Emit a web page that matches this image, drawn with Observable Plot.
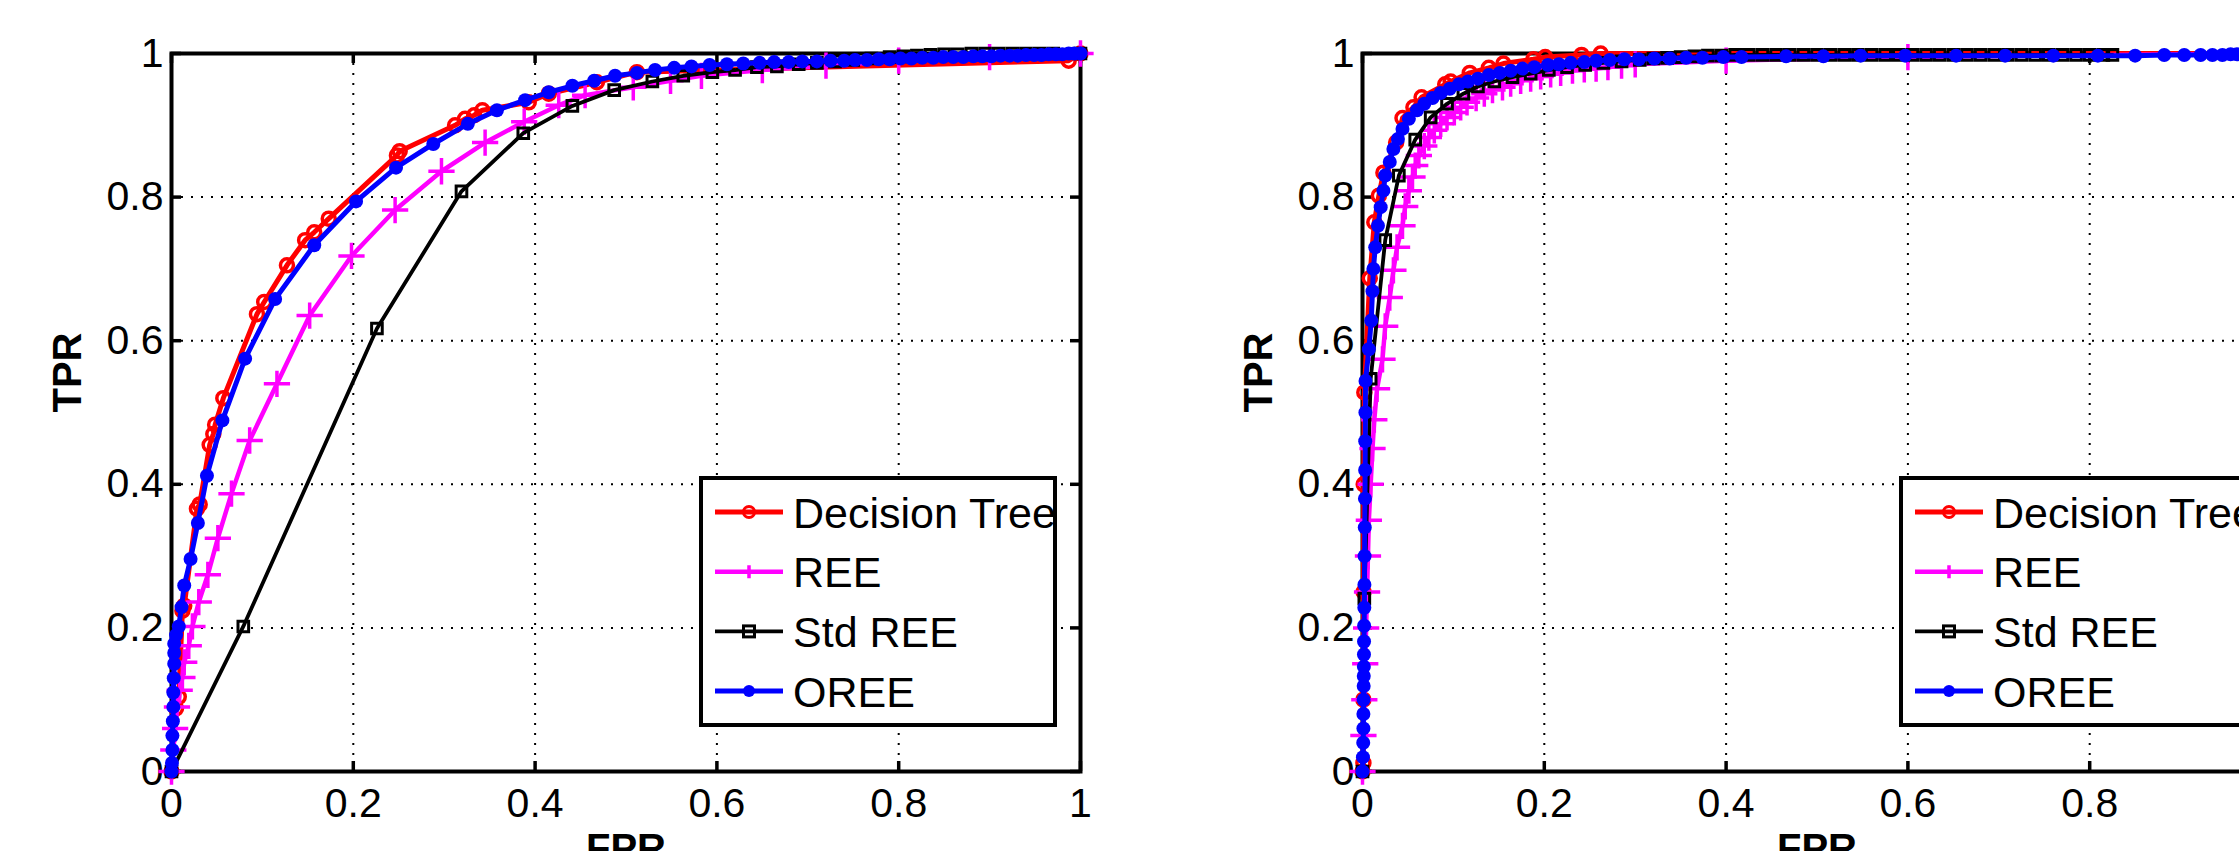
<!DOCTYPE html>
<html><head><meta charset="utf-8">
<script src="https://cdn.jsdelivr.net/npm/d3@7"></script>
<script src="https://cdn.jsdelivr.net/npm/@observablehq/plot@0.6"></script>
<style>
html,body{margin:0;padding:0;background:#fff;overflow:hidden;}
#wrap{position:relative;width:2239px;height:851px;overflow:hidden;background:#fff;}
.panel{position:absolute;top:0;width:1191px;height:851px;}
.panel svg{max-width:none !important;}
</style></head><body><div id="wrap"></div>
<script>
const seriesNames = ["Decision Tree", "REE", "Std REE", "OREE"];
const seriesColors = ["#ff0000", "#ff00ff", "#000000", "#0000ff"];
const xTicks = [0, 0.2, 0.4, 0.6, 0.8, 1];
const yTicks = [0, 0.2, 0.4, 0.6, 0.8, 1];
const xLabel = "FPR";
const yLabel = "TPR";

// ---- left panel: [FPR, TPR]
const leftTree = [[0,0],[0.005,0.088],[0.008,0.104],[0.012,0.224],[0.014,0.231],[0.028,0.366],[0.031,0.372],[0.042,0.455],[0.046,0.47],[0.048,0.483],[0.057,0.52],[0.094,0.637],[0.102,0.654],[0.127,0.705],[0.147,0.74],[0.157,0.751],[0.173,0.77],[0.248,0.858],[0.251,0.864],[0.312,0.9],[0.323,0.909],[0.333,0.914],[0.342,0.921],[0.393,0.932],[0.415,0.944],[0.468,0.96],[0.512,0.974],[0.987,0.99],[1,1]];
const leftREE = [[0,0],[0.002,0.03],[0.004,0.06],[0.006,0.09],[0.009,0.113],[0.012,0.131],[0.014,0.152],[0.019,0.175],[0.023,0.202],[0.03,0.236],[0.04,0.274],[0.051,0.325],[0.066,0.387],[0.086,0.461],[0.116,0.54],[0.152,0.635],[0.198,0.718],[0.246,0.782],[0.297,0.836],[0.345,0.876],[0.388,0.905],[0.426,0.928],[0.455,0.942],[0.508,0.953],[0.549,0.962],[0.583,0.969],[0.65,0.977],[0.72,0.983],[0.8,0.99],[0.9,0.995],[1,1]];
const leftStd = [[0,0],[0.079,0.202],[0.226,0.617],[0.319,0.808],[0.387,0.889],[0.441,0.927],[0.487,0.949],[0.529,0.961],[0.563,0.969],[0.595,0.974],[0.62,0.977],[0.644,0.981],[0.666,0.982],[0.69,0.985],[0.71,0.987],[0.73,0.989],[0.75,0.991],[0.77,0.993],[0.79,0.995],[0.805,0.996],[0.82,0.997],[0.835,0.998],[0.85,0.999],[0.865,0.999],[0.88,1],[0.895,1],[0.91,1],[0.925,1],[0.94,1],[0.955,1],[0.97,1],[1,1]];
const leftOREE = [[0,0],[0.0005,0.012],[0.001,0.03],[0.001,0.05],[0.0015,0.07],[0.002,0.09],[0.002,0.11],[0.0025,0.13],[0.003,0.15],[0.003,0.165],[0.003,0.178],[0.005,0.19],[0.008,0.202],[0.011,0.229],[0.014,0.259],[0.021,0.296],[0.029,0.346],[0.039,0.412],[0.056,0.489],[0.081,0.575],[0.114,0.658],[0.157,0.733],[0.203,0.794],[0.247,0.841],[0.288,0.874],[0.326,0.902],[0.358,0.921],[0.389,0.935],[0.415,0.946],[0.441,0.955],[0.465,0.962],[0.488,0.969],[0.512,0.973],[0.532,0.977],[0.553,0.98],[0.572,0.982],[0.592,0.984],[0.611,0.985],[0.629,0.986],[0.647,0.987],[0.663,0.988],[0.679,0.988],[0.694,0.989],[0.71,0.989],[0.725,0.99],[0.74,0.99],[0.752,0.991],[0.765,0.991],[0.778,0.992],[0.79,0.992],[0.802,0.993],[0.814,0.993],[0.826,0.994],[0.838,0.994],[0.849,0.995],[0.86,0.995],[0.871,0.995],[0.882,0.996],[0.892,0.996],[0.902,0.996],[0.912,0.997],[0.922,0.997],[0.931,0.997],[0.94,0.998],[0.949,0.998],[0.957,0.998],[0.965,0.999],[0.973,0.999],[0.98,0.999],[0.987,1],[0.993,1],[1,1]];

// ---- right panel: [FPR, TPR]
const rightTree = [[0,0],[0.001,0.012],[0.001,0.1],[0.0012,0.25],[0.0013,0.4],[0.002,0.528],[0.008,0.687],[0.013,0.765],[0.018,0.802],[0.023,0.834],[0.037,0.876],[0.044,0.91],[0.056,0.925],[0.065,0.939],[0.091,0.957],[0.097,0.961],[0.118,0.973],[0.139,0.98],[0.155,0.986],[0.188,0.992],[0.201,0.995],[0.241,0.998],[0.262,1],[1,1]];
const rightREE = [[0,0],[0.001,0.05],[0.002,0.1],[0.003,0.15],[0.004,0.2],[0.005,0.25],[0.006,0.3],[0.007,0.35],[0.009,0.4],[0.011,0.45],[0.013,0.49],[0.016,0.533],[0.022,0.574],[0.025,0.62],[0.03,0.66],[0.034,0.698],[0.038,0.73],[0.044,0.76],[0.047,0.787],[0.051,0.809],[0.055,0.828],[0.058,0.844],[0.062,0.858],[0.068,0.871],[0.073,0.883],[0.079,0.893],[0.086,0.902],[0.093,0.911],[0.101,0.918],[0.108,0.925],[0.115,0.932],[0.125,0.938],[0.134,0.944],[0.143,0.949],[0.154,0.953],[0.163,0.958],[0.174,0.962],[0.185,0.965],[0.196,0.968],[0.207,0.971],[0.218,0.973],[0.231,0.976],[0.244,0.978],[0.257,0.979],[0.27,0.981],[0.285,0.983],[0.3,0.985],[0.4,0.99],[0.6,0.995],[1,1]];
const rightStd = [[0,0],[0.002,0.241],[0.009,0.547],[0.025,0.74],[0.04,0.83],[0.058,0.88],[0.075,0.911],[0.093,0.93],[0.111,0.944],[0.127,0.954],[0.145,0.961],[0.165,0.967],[0.185,0.972],[0.205,0.977],[0.225,0.981],[0.245,0.984],[0.265,0.987],[0.285,0.989],[0.305,0.991],[0.32,0.993],[0.335,0.994],[0.35,0.995],[0.365,0.996],[0.38,0.997],[0.395,0.997],[0.41,0.998],[0.425,0.998],[0.44,0.998],[0.455,0.998],[0.47,0.998],[0.485,0.998],[0.5,0.998],[0.515,0.998],[0.53,0.998],[0.545,0.998],[0.56,0.998],[0.575,0.998],[0.59,0.998],[0.605,0.998],[0.62,0.998],[0.635,0.998],[0.65,0.998],[0.665,0.998],[0.68,0.998],[0.695,0.998],[0.71,0.998],[0.725,0.998],[0.74,0.998],[0.755,0.998],[0.77,0.998],[0.785,0.998],[0.8,0.998],[0.815,0.998],[0.825,0.998]];
const rightOREE = [[0,0],[0.0005,0.02],[0.0008,0.04],[0.001,0.06],[0.001,0.08],[0.0012,0.1],[0.0013,0.119],[0.0014,0.133],[0.0015,0.146],[0.0016,0.163],[0.0017,0.181],[0.0018,0.203],[0.002,0.228],[0.0021,0.26],[0.0023,0.3],[0.0025,0.34],[0.0027,0.38],[0.0029,0.42],[0.003,0.46],[0.0032,0.5],[0.0033,0.544],[0.007,0.588],[0.0096,0.628],[0.011,0.669],[0.012,0.7],[0.014,0.73],[0.017,0.76],[0.02,0.786],[0.023,0.809],[0.025,0.83],[0.03,0.849],[0.034,0.867],[0.039,0.881],[0.044,0.895],[0.051,0.909],[0.06,0.921],[0.068,0.93],[0.077,0.938],[0.086,0.945],[0.096,0.951],[0.106,0.957],[0.116,0.961],[0.127,0.965],[0.139,0.97],[0.151,0.973],[0.163,0.976],[0.176,0.979],[0.189,0.981],[0.204,0.984],[0.216,0.985],[0.229,0.987],[0.244,0.988],[0.257,0.99],[0.272,0.991],[0.288,0.992],[0.304,0.992],[0.321,0.993],[0.338,0.993],[0.356,0.994],[0.374,0.994],[0.397,0.995],[0.417,0.995],[0.466,0.996],[0.507,0.996],[0.548,0.997],[0.597,0.997],[0.653,0.997],[0.707,0.997],[0.76,0.997],[0.809,0.997],[0.85,0.997],[0.882,0.998],[0.904,0.998],[0.922,0.998],[0.935,0.998],[0.946,0.998],[0.955,0.999],[0.962,0.999],[0.968,0.999],[0.974,0.999],[0.98,0.999],[0.986,1],[0.993,1],[1,1]];

const FONT = "'Liberation Sans', Arial, Helvetica, sans-serif";
const W = 1191, H = 851, ML = 171, MR = 111, MT = 53, MB = 80;
const lineWidths = [5, 4.5, 3.8, 5];

function seriesMarks(pts, i) {
  const rows = pts.map(([x, y]) => ({fpr: x, tpr: y}));
  const c = seriesColors[i];
  const line = Plot.line(rows, {x: "fpr", y: "tpr", stroke: c, strokeWidth: lineWidths[i], strokeLinejoin: "round"});
  let dots;
  if (i === 0) dots = Plot.dot(rows, {x: "fpr", y: "tpr", symbol: "circle", r: 6.5, stroke: c, strokeWidth: 3.5, fill: "none"});
  else if (i === 1) dots = Plot.dot(rows, {x: "fpr", y: "tpr", symbol: "plus", r: 8.5, stroke: c, strokeWidth: 3.5, fill: "none"});
  else if (i === 2) dots = Plot.dot(rows, {x: "fpr", y: "tpr", symbol: "square", r: 6, stroke: c, strokeWidth: 3, fill: "none"});
  else dots = Plot.dot(rows, {x: "fpr", y: "tpr", symbol: "circle", r: 7, fill: c, stroke: "none"});
  return [line, dots];
}

function panel(series, offset, legendLeft) {
  const pw = W - ML - MR, ph = H - MT - MB;
  const tx = 10 / pw, ty = 10 / ph;
  const tickStyle = {stroke: "#000", strokeWidth: 3.5};
  const gridStyle = {stroke: "#000", strokeOpacity: 1, strokeWidth: 2, strokeDasharray: "2,8"};
  const plot = Plot.plot({
    width: W, height: H,
    marginLeft: ML, marginRight: MR, marginTop: MT, marginBottom: MB,
    style: {background: "transparent", fontFamily: FONT, overflow: "visible", maxWidth: "none"},
    x: {domain: [0, 1], label: null},
    y: {domain: [0, 1], label: null},
    marks: [
      Plot.gridX({ticks: xTicks, ...gridStyle}),
      Plot.gridY({ticks: yTicks, ...gridStyle}),
      Plot.ruleX(xTicks, {x: d => d, y1: 0, y2: ty, ...tickStyle}),
      Plot.ruleX(xTicks, {x: d => d, y1: 1 - ty, y2: 1, ...tickStyle}),
      Plot.ruleY(yTicks, {y: d => d, x1: 0, x2: tx, ...tickStyle}),
      Plot.ruleY(yTicks, {y: d => d, x1: 1 - tx, x2: 1, ...tickStyle}),
      Plot.frame({stroke: "#000", strokeWidth: 4}),
      Plot.axisX({ticks: xTicks, tickSize: 0, tickPadding: 16, fontSize: 41, tickFormat: d => String(d), fill: "#000", label: null}),
      Plot.axisY({ticks: yTicks, tickSize: 0, tickPadding: 8, fontSize: 41, tickFormat: d => String(d), fill: "#000", label: null}),
      Plot.text([yLabel], {text: d => d, frameAnchor: "left", dx: -103, rotate: -90, fontSize: 40, fontWeight: "bold", fill: "#000"}),
      Plot.text([xLabel], {text: d => d, frameAnchor: "bottom", dy: 62, lineAnchor: "top", fontSize: 40, fontWeight: "bold", fill: "#000"}),
      ...series.flatMap((pts, i) => seriesMarks(pts, i))
    ]
  });

  // legend (inside the axes, lower right)
  const svg = d3.select(plot);
  const g = svg.append("g").attr("font-family", FONT).attr("text-anchor", "start");
  const bx = legendLeft, by = 478, bw = 354, bh = 247;
  g.append("rect").attr("x", bx).attr("y", by).attr("width", bw).attr("height", bh).attr("fill", "#fff");
  seriesNames.forEach((name, i) => {
    const cy = 512 + i * 59.7, c = seriesColors[i], mx = bx + 48;
    g.append("line").attr("x1", bx + 14).attr("x2", bx + 82).attr("y1", cy).attr("y2", cy)
      .attr("stroke", c).attr("stroke-width", lineWidths[i]);
    if (i === 0) g.append("circle").attr("cx", mx).attr("cy", cy).attr("r", 5.5).attr("fill", "none").attr("stroke", c).attr("stroke-width", 3);
    else if (i === 1) g.append("path").attr("d", `M${mx - 6},${cy}H${mx + 6}M${mx},${cy - 6.5}V${cy + 6.5}`).attr("stroke", c).attr("stroke-width", 3.5);
    else if (i === 2) g.append("rect").attr("x", mx - 5.5).attr("y", cy - 5.5).attr("width", 11).attr("height", 11).attr("fill", "none").attr("stroke", c).attr("stroke-width", 3);
    else g.append("circle").attr("cx", mx).attr("cy", cy).attr("r", 6).attr("fill", c);
    g.append("text").attr("x", bx + 92).attr("y", cy + 15.5).attr("font-size", 43)
      .attr("text-anchor", "start").attr("fill", "#000").text(name);
  });
  g.append("rect").attr("x", bx).attr("y", by).attr("width", bw).attr("height", bh)
    .attr("fill", "none").attr("stroke", "#000").attr("stroke-width", 4);

  const div = document.createElement("div");
  div.className = "panel";
  div.style.left = offset + "px";
  div.appendChild(plot);
  document.getElementById("wrap").appendChild(div);
}

panel([leftTree, leftREE, leftStd, leftOREE], 0, 701);
panel([rightTree, rightREE, rightStd, rightOREE], 1191, 710);
</script></body></html>
